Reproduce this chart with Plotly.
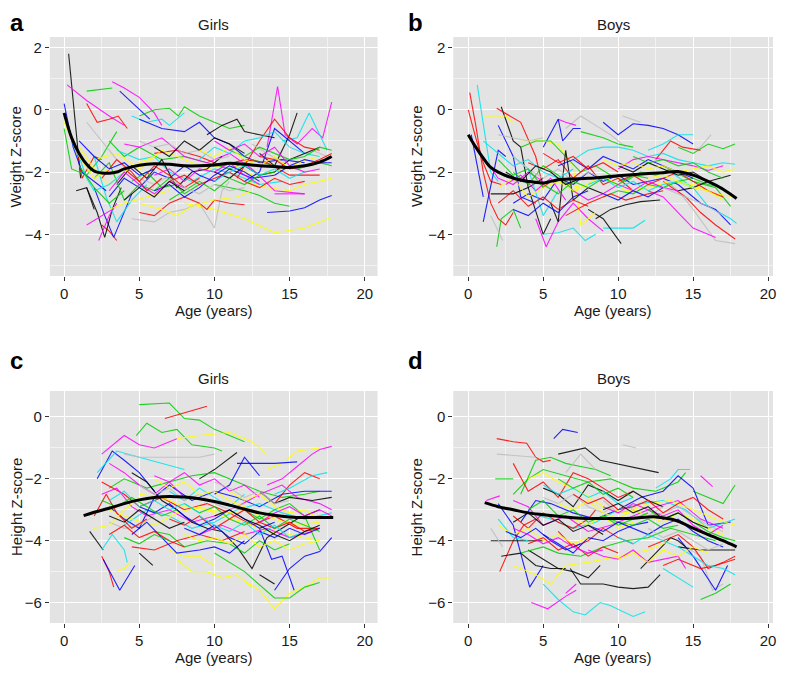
import plotly.graph_objects as go

W, H = 788, 674
OFF = 8  # the html body margin pushes the plot down/right by this much

# ---- data --------------------------------------------------------------
# each child trajectory: (colour, ages, z-scores)
girls_weight = [
    ("black", [0.3, 0.6, 0.9, 1.1], [1.8, 0.3, -1.2, -2.2]),
    ("magenta", [0.2, 1.5, 3.0, 4.0], [0.8, 0.3, -0.2, -0.5]),
    ("magenta", [3.2, 4.0, 5.0, 6.0, 6.5], [0.9, 0.7, 0.4, -0.1, -0.5]),
    ("green", [1.5, 3.2], [0.6, 0.7]),
    ("red", [1.5, 2.2, 3.0, 3.6, 4.2], [0.2, -0.4, -0.3, -0.2, -0.6]),
    ("blue", [3.7, 4.8, 5.7], [0.6, 0.1, -0.3]),
    ("green", [5.0, 6.0, 7.0, 7.6, 8.0, 9.0, 10.0, 11.0, 12.0], [-0.2, 0.0, 0.05, -0.2, 0.1, -0.2, -0.4, -0.6, -0.5]),
    ("cyan", [4.5, 5.5, 6.5, 7.0, 8.0], [-0.2, -0.4, -0.3, -0.5, -0.1]),
    ("magenta", [13.5, 14.2, 14.7, 15.5, 16.5, 17.2, 17.8], [-1.2, 0.75, -0.8, -1.1, -0.6, -0.9, 0.25]),
    ("cyan", [14.5, 15.5, 16.3, 17.0, 17.5], [-1.0, -0.9, -0.1, -0.8, -1.3]),
    ("black", [13.0, 14.0, 15.0, 15.5], [-1.4, -1.8, -0.8, -0.1]),
    ("yellow", [8.0, 10.0, 12.0, 14.0, 16.0, 17.8], [-3.0, -3.2, -3.5, -3.95, -3.8, -3.45]),
    ("blue", [13.5, 15.0, 16.0, 17.0, 17.8], [-3.3, -3.25, -3.15, -2.9, -2.75]),
    ("green", [10.0, 12.0, 13.0, 14.0, 15.0], [-2.4, -2.6, -2.75, -3.0, -3.1]),
    ("red", [2.5, 3.0, 3.5], [-3.7, -3.9, -4.2]),
    ("blue", [2.0, 2.7, 3.3, 4.0, 4.5], [-2.5, -3.4, -4.1, -3.3, -2.7]),
    ("black", [1.5, 2.2, 2.7, 3.2, 3.8], [-2.5, -3.3, -4.1, -3.2, -2.5]),
    ("magenta", [2.3, 3.0, 3.5], [-4.2, -3.4, -3.0]),
    ("magenta", [1.5, 2.5, 3.2], [-3.7, -3.4, -3.2]),
    ("gray", [4.5, 6.0, 7.0, 8.0, 9.0, 10.0, 10.5, 11.0], [-3.5, -3.6, -3.3, -3.2, -3.0, -3.8, -2.6, -2.3]),
    ("red", [5.0, 6.0, 7.0, 8.0, 9.0, 9.5, 10.0, 11.0, 12.0], [-3.3, -3.4, -3.0, -2.8, -3.0, -3.2, -2.9, -3.0, -3.05]),
    ("black", [0.8, 1.5, 2.0], [-2.6, -2.5, -3.2]),
    ("red", [0.8, 1.2, 2.0, 2.5], [-1.2, -2.2, -1.5, -1.6]),
    ("green", [0.0, 0.5, 1.5, 2.5, 3.5], [-0.6, -1.9, -2.1, -1.5, -0.7]),
    ("yellow", [5.0, 6.5, 7.5, 8.5, 10.0, 11.5, 12.5], [-3.0, -3.2, -3.4, -3.1, -2.9, -2.8, -2.6]),
    ("yellow", [12.0, 13.5, 15.0, 16.0, 17.0, 17.8], [-2.3, -2.5, -2.6, -2.4, -2.3, -2.2]),
    ("blue", [5.0, 6.5, 8.0, 9.0, 10.0, 11.0, 12.0, 13.0, 14.5, 16.0], [-0.3, -0.6, -0.7, -0.4, -0.9, -1.1, -1.5, -1.7, -1.6, -1.7]),
    ("black", [9.5, 10.5, 11.5, 12.0, 13.0, 14.0], [-0.8, -0.5, -0.3, -0.7, -0.8, -0.9]),
    ("green", [3.0, 4.0, 5.0, 6.5, 8.0, 9.5, 11.0, 12.5, 14.0, 15.5, 17.0, 17.8], [-1.0, -1.5, -1.2, -1.6, -1.5, -1.7, -1.9, -1.6, -1.8, -1.9, -1.7, -1.8]),
    ("cyan", [3.5, 5.0, 6.0, 7.0, 8.5, 10.0, 11.5, 13.0, 14.5], [-1.3, -1.6, -1.5, -2.0, -2.3, -1.9, -2.1, -2.4, -2.3]),
    ("red", [6.0, 7.5, 9.0, 10.5, 12.0, 13.5, 15.0, 17.0], [-1.4, -1.3, -1.5, -1.8, -1.6, -1.7, -2.1, -2.1]),
    ("blue", [3.0, 4.0, 5.0, 6.0, 7.0, 8.0, 9.0, 10.0, 11.0, 12.5, 14.0], [-2.8, -2.2, -2.5, -2.0, -2.2, -1.8, -2.1, -2.3, -1.9, -2.2, -2.1]),
    ("magenta", [4.0, 5.0, 6.5, 8.0, 9.5, 11.0, 12.5, 14.0, 16.0], [-1.1, -1.2, -0.9, -1.5, -1.7, -1.4, -1.9, -2.6, -2.7]),
    ("yellow", [2.0, 3.5, 5.0, 6.5, 8.0, 9.5, 11.0, 12.5, 14.0, 15.5, 17.0], [-1.6, -1.4, -1.9, -1.3, -1.6, -1.9, -1.7, -2.1, -2.0, -1.7, -1.5]),
    ("gray", [1.5, 2.5, 3.5, 4.5, 6.0, 7.5], [-0.4, -1.0, -1.6, -2.1, -2.4, -2.0]),
    ("black", [3.5, 4.5, 5.5, 6.5, 7.5, 8.5, 9.5, 10.5], [-2.4, -1.8, -2.2, -1.6, -2.5, -2.0, -1.9, -1.5]),
    ("green", [2.0, 3.0, 4.0, 5.0, 6.0, 7.0, 8.0, 9.0], [-2.2, -1.7, -2.9, -2.4, -2.6, -2.2, -2.7, -2.4]),
    ("cyan", [2.0, 2.8, 3.5, 4.5, 5.5], [-1.5, -2.8, -3.6, -2.9, -2.4]),
    ("red", [11.5, 13.0, 14.0, 15.0, 16.0, 17.0], [-2.2, -1.0, -0.3, -0.9, -1.2, -1.3]),
    ("blue", [12.0, 13.0, 14.0, 15.0, 16.0], [-2.3, -2.0, -0.6, -1.0, -1.4]),
    ("magenta", [14.0, 15.0, 16.0], [-2.7, -2.7, -2.7]),
    ("yellow", [3.0, 4.0, 5.5, 7.0], [-3.2, -3.0, -2.8, -2.6]),
    ("gray", [12.5, 13.5, 14.5, 15.5, 16.5, 17.5], [-1.1, -1.4, -1.7, -1.5, -1.3, -1.5]),
    ("green", [4.5, 5.5, 6.5, 7.5], [-2.3, -2.0, -2.5, -2.4]),
    ("blue", [0.0, 0.6, 1.2, 2.0, 2.8], [0.2, -1.2, -2.0, -2.3, -2.6]),
    ("cyan", [9.0, 10.0, 11.0, 12.0, 13.0, 14.0, 15.0, 16.0, 17.0], [-1.6, -1.2, -1.4, -1.0, -0.9, -0.7, -1.2, -1.4, -1.5]),
    ("red", [4.0, 5.0, 6.0, 7.0, 8.0, 9.0], [-1.9, -2.3, -1.8, -2.1, -2.5, -2.2]),
    ("magenta", [6.0, 7.0, 8.0, 9.0, 10.0, 11.0, 12.0, 13.0], [-2.1, -1.9, -2.3, -1.9, -2.0, -1.7, -2.1, -2.4]),
    ("black", [10.0, 11.0, 12.0, 13.0, 14.0, 15.0, 16.0, 17.0], [-2.0, -2.2, -1.8, -2.1, -2.0, -1.6, -1.4, -1.2]),
    ("gray", [5, 6, 7, 8, 9, 10, 11], [-1.0, -1.2, -1.1, -1.4, -1.3, -1.6, -1.5]),
    ("yellow", [1, 2, 3, 4, 5, 6], [-1.2, -1.9, -2.4, -2.0, -1.7, -1.5]),
    ("red", [7, 8, 9, 10, 11, 12, 13, 14, 15, 16], [-2.3, -2.1, -2.4, -2.2, -2.0, -2.3, -2.5, -2.2, -2.4, -2.3]),
    ("green", [11, 12, 13, 14, 15, 16, 17, 17.8], [-1.3, -1.5, -1.2, -1.4, -1.6, -1.5, -1.2, -1.3]),
    ("blue", [6, 7, 8, 9, 10, 11, 12, 13], [-2.6, -2.4, -2.8, -2.5, -2.1, -1.8, -2.0, -2.3]),
    ("cyan", [0.5, 1, 1.5, 2, 3, 4], [-1.0, -1.5, -2.2, -2.6, -2.4, -2.0]),
    ("magenta", [3, 4, 5, 6, 7, 8], [-2.6, -2.0, -2.4, -2.7, -2.3, -2.5]),
    ("black", [6, 7, 8, 9, 10, 11, 12], [-1.2, -1.5, -1.0, -1.3, -0.9, -1.1, -1.4]),
    ("yellow", [9, 10, 11, 12, 13, 14, 15, 16], [-1.3, -1.5, -1.2, -1.6, -1.8, -1.5, -1.9, -1.6]),
    ("red", [2.5, 3.5, 4.5, 5.5, 6.5], [-2.2, -1.6, -2.0, -2.6, -2.2]),
    ("green", [7, 8, 9, 10, 11, 12, 13, 14], [-2.9, -2.6, -2.3, -2.6, -2.2, -2.4, -2.1, -2.0]),
    ("blue", [14, 15, 16, 17, 17.8], [-2.1, -1.8, -1.6, -1.7, -1.7]),
    ("cyan", [10, 11, 12, 13, 14, 15, 16], [-2.3, -2.0, -1.8, -2.1, -1.9, -2.2, -2.0]),
    ("magenta", [10, 11, 12, 13, 14, 15, 16, 17], [-1.0, -1.3, -1.1, -1.5, -1.2, -1.8, -2.0, -1.9]),
    ("gray", [7, 8, 9, 10, 11, 12], [-2.2, -2.5, -2.7, -2.4, -2.6, -2.5]),
    ("red", [13, 14, 15, 16, 17, 17.8], [-1.5, -1.6, -1.9, -1.8, -1.6, -1.4]),
    ("blue", [1.0, 2.0, 3.0, 4.0, 5.0, 6.0], [-1.0, -1.5, -1.9, -1.7, -2.1, -1.9]),
    ("black", [4.0, 5.0, 6.0, 7.0, 8.0], [-2.9, -2.5, -2.8, -2.3, -2.6]),
    ("green", [1.0, 2.0, 3.0, 4.0], [-1.8, -2.5, -3.0, -2.6]),
    ("yellow", [0.0, 1.0, 2.0, 3.0], [-0.4, -1.5, -2.2, -1.9]),
]

boys_weight = [
    ("red", [0.1, 0.5, 1.0, 1.5, 2.0, 2.5, 3.0], [0.55, -0.5, -2.0, -3.0, -3.5, -3.7, -3.3]),
    ("red", [0.0, 0.5, 1.0, 1.5, 2.2], [0.0, -0.9, -1.7, -2.3, -2.4]),
    ("cyan", [0.6, 1.0, 1.5, 2.0], [0.8, -0.5, -2.0, -2.3]),
    ("blue", [0.2, 0.6, 1.0], [-0.8, -1.8, -2.8]),
    ("black", [2.2, 3.0, 3.5, 4.0, 5.0, 5.5], [0.1, -1.0, -1.2, -2.5, -4.0, -3.5]),
    ("red", [1.9, 3.5, 4.5, 5.0, 5.5], [0.05, -0.4, -1.5, -2.5, -2.3]),
    ("yellow", [1.0, 2.5, 3.0], [-0.2, -0.2, -0.4]),
    ("blue", [9.0, 10.0, 11.0, 12.0, 13.0, 14.0, 15.0], [-0.4, -0.8, -0.45, -0.5, -0.6, -0.8, -1.1]),
    ("gray", [10.3, 11.5], [-0.2, -0.4]),
    ("gray", [6.5, 7.5, 8.5, 9.5, 10.5], [-0.6, -0.2, -0.5, -0.8, -1.2]),
    ("magenta", [6.0, 6.5, 7.2], [-0.3, -0.4, -0.5]),
    ("blue", [5.0, 6.0, 6.3, 7.0, 7.5], [-1.2, -0.3, -1.0, -0.6, -0.6]),
    ("green", [7.5, 9.0, 10.0, 11.0], [-0.7, -0.9, -1.1, -1.2]),
    ("green", [14.0, 15.0, 16.0, 17.0, 17.8], [-1.2, -1.4, -1.1, -1.25, -1.1]),
    ("gray", [15.0, 15.5, 16.2], [-1.3, -1.2, -0.8]),
    ("cyan", [12.0, 13.0, 14.0, 15.0], [-1.3, -1.1, -0.8, -0.8]),
    ("red", [12.5, 13.5, 14.3, 15.5], [-1.6, -1.0, -1.2, -1.3]),
    ("gray", [13.0, 14.0, 15.0, 16.5, 17.8], [-2.2, -2.6, -3.2, -4.2, -4.3]),
    ("red", [13.0, 14.5, 15.5, 16.5, 17.8], [-2.3, -2.8, -3.3, -3.7, -4.15]),
    ("magenta", [12.0, 13.0, 14.0, 15.0, 16.5], [-2.6, -2.8, -3.3, -3.8, -4.1]),
    ("cyan", [13.5, 15.0, 16.0, 17.5, 17.9], [-2.0, -2.5, -3.1, -3.5, -3.65]),
    ("blue", [14.0, 15.5, 16.5, 17.5], [-2.4, -3.0, -3.2, -3.7]),
    ("green", [13.0, 15.0, 16.5, 17.5], [-1.8, -2.3, -2.5, -3.1]),
    ("cyan", [5.0, 6.0, 7.0, 7.8, 8.5], [-4.0, -3.95, -3.8, -4.2, -4.0]),
    ("cyan", [9.0, 10.0, 11.0, 11.8], [-3.8, -3.8, -3.8, -3.55]),
    ("black", [8.0, 9.0, 10.2], [-3.2, -3.5, -4.3]),
    ("black", [8.5, 9.5, 10.5, 11.5, 12.8], [-3.5, -3.2, -3.05, -2.95, -2.9]),
    ("magenta", [4.5, 5.2, 6.0, 7.0, 8.0, 9.0], [-3.5, -4.4, -3.6, -3.0, -3.5, -3.9]),
    ("green", [1.9, 2.2, 3.0, 3.5], [-4.4, -3.5, -3.2, -3.8]),
    ("gray", [1.5, 2.3], [-3.4, -4.2]),
    ("blue", [1.0, 1.5, 2.0, 2.5], [-3.6, -2.5, -1.3, -1.5]),
    ("black", [1.5, 3.0, 4.0, 5.0], [-2.7, -2.7, -2.5, -2.2]),
    ("blue", [2.0, 3.0, 3.5, 4.5], [-0.5, -1.5, -2.8, -3.0]),
    ("yellow", [3.5, 5.0, 6.0, 7.0, 7.5, 8.5], [-1.0, -1.0, -1.1, -1.8, -3.7, -3.3]),
    ("green", [3.5, 4.5, 5.5, 6.5, 7.5, 8.5, 9.5, 10.5, 11.5, 12.5, 13.5], [-1.2, -1.0, -1.0, -1.5, -2.0, -1.8, -2.1, -2.3, -2.0, -2.1, -1.9]),
    ("cyan", [7.0, 8.0, 9.0, 10.0, 11.0, 12.0, 13.0, 14.0, 15.0, 16.0, 17.0, 17.8], [-1.6, -1.3, -1.2, -1.2, -1.3, -1.5, -1.4, -1.6, -1.7, -1.8, -1.7, -1.75]),
    ("magenta", [10.0, 11.0, 12.0, 13.0, 14.0, 15.0, 16.0, 17.0], [-1.9, -1.6, -1.5, -1.6, -1.7, -1.8, -1.95, -1.8]),
    ("red", [4.0, 5.0, 6.0, 7.0, 8.0, 9.0, 10.0, 11.0], [-1.7, -1.9, -1.6, -2.2, -1.8, -2.4, -2.2, -2.6]),
    ("blue", [3.0, 4.0, 5.0, 6.0, 7.0, 8.0, 9.0, 10.0, 11.0, 12.0, 13.0, 14.0], [-3.0, -2.7, -2.9, -2.2, -2.4, -2.0, -2.3, -2.1, -2.4, -2.3, -2.2, -2.4]),
    ("yellow", [6.0, 7.5, 9.0, 10.5, 12.0, 13.5, 15.0, 16.5, 17.8], [-2.3, -2.5, -2.1, -2.6, -2.5, -2.3, -2.4, -2.7, -2.8]),
    ("black", [5.5, 6.0, 6.5, 7.0, 8.0, 9.0], [-3.0, -3.6, -1.3, -2.9, -2.5, -2.7]),
    ("green", [9.0, 10.0, 11.0, 12.0, 13.0, 14.0, 15.0, 16.0, 17.0], [-2.8, -2.6, -2.7, -2.4, -2.5, -2.3, -2.2, -2.4, -2.5]),
    ("red", [6.5, 8.0, 9.5, 10.5, 12.0, 13.0], [-3.4, -3.0, -2.7, -2.9, -2.7, -2.6]),
    ("magenta", [2.5, 3.5, 4.5, 5.5, 6.5], [-2.4, -2.1, -2.6, -2.2, -2.9]),
    ("gray", [2.0, 3.0, 4.0, 5.0], [-0.8, -0.9, -1.0, -0.9]),
    ("black", [14.0, 15.0, 16.0, 17.5], [-2.6, -2.5, -2.3, -2.1]),
    ("green", [3.0, 4.0, 5.0, 6.0, 7.0], [-2.0, -2.4, -1.8, -2.1, -2.6]),
    ("cyan", [3.0, 4.0, 5.0, 6.0], [-1.5, -1.9, -3.4, -2.6]),
    ("gray", [3, 4, 5, 6, 7, 8, 9], [-1.5, -1.9, -2.2, -1.9, -2.3, -2.0, -2.2]),
    ("yellow", [2, 3, 4, 5, 6, 7, 8], [-2.5, -2.2, -2.8, -2.5, -2.3, -2.6, -2.4]),
    ("red", [10, 11, 12, 13, 14, 15, 16, 17], [-2.3, -2.1, -2.4, -2.2, -2.0, -2.3, -2.6, -2.8]),
    ("green", [5, 6, 7, 8, 9, 10, 11, 12], [-2.4, -2.7, -2.3, -2.5, -2.2, -2.4, -2.1, -2.2]),
    ("blue", [6, 7, 8, 9, 10, 11, 12, 13, 14, 15], [-1.8, -1.6, -1.9, -1.5, -1.7, -1.9, -1.6, -1.8, -2.0, -2.2]),
    ("cyan", [1, 2, 3, 4, 5, 6, 7], [-1.0, -1.4, -1.8, -1.6, -2.0, -2.2, -1.9]),
    ("magenta", [7, 8, 9, 10, 11, 12, 13, 14], [-2.6, -2.9, -2.7, -2.4, -2.6, -2.3, -2.5, -2.6]),
    ("black", [10, 11, 12, 13, 14, 15, 16], [-1.8, -2.0, -1.7, -1.9, -2.1, -2.0, -2.3]),
    ("yellow", [9, 10, 11, 12, 13, 14, 15, 16, 17, 17.8], [-1.6, -1.8, -1.7, -1.9, -1.8, -2.0, -1.9, -1.8, -2.0, -1.9]),
    ("red", [2, 3, 4, 5, 6, 7, 8], [-3.0, -2.6, -3.1, -2.8, -3.2, -2.9, -3.1]),
    ("green", [11, 12, 13, 14, 15, 16, 17], [-1.5, -1.7, -1.6, -1.8, -1.7, -2.0, -2.2]),
    ("blue", [3, 4, 5, 6, 7, 8], [-3.2, -3.4, -3.0, -3.3, -2.8, -2.6]),
    ("cyan", [8, 9, 10, 11, 12, 13, 14, 15], [-2.4, -2.2, -2.5, -2.3, -2.6, -2.4, -2.3, -2.5]),
    ("magenta", [1, 2, 3, 4, 5], [-1.5, -2.2, -2.4, -2.0, -2.3]),
    ("gray", [11, 12, 13, 14, 15, 16, 17], [-2.6, -2.8, -2.5, -2.7, -2.9, -3.1, -3.4]),
    ("black", [2.5, 3.5, 4.5, 5.5, 6.5, 7.5], [-2.0, -2.3, -1.8, -2.0, -2.4, -2.2]),
    ("red", [5, 6, 7, 8, 9, 10], [-1.4, -1.7, -1.5, -1.9, -1.7, -2.0]),
    ("green", [2, 3, 4, 5], [-1.6, -2.1, -1.9, -2.5]),
    ("yellow", [12, 13, 14, 15, 16, 17], [-2.2, -2.1, -2.3, -2.5, -2.6, -2.9]),
    ("blue", [9, 10, 11, 12, 13], [-2.7, -2.9, -2.6, -2.8, -2.5]),
]

girls_height = [
    ("green", [5.0, 7.0, 8.0, 9.0, 10.0, 12.0], [0.4, 0.45, -0.05, -0.1, -0.4, -0.8]),
    ("red", [6.7, 9.5], [-0.05, 0.35]),
    ("green", [4.8, 5.5, 6.5, 7.5, 8.5, 10.0, 10.5], [-0.6, -0.2, -0.5, -0.4, -0.9, -1.0, -1.1]),
    ("yellow", [7.5, 9.0, 11.0, 12.5, 13.5], [-0.7, -0.6, -0.5, -0.8, -1.2]),
    ("magenta", [2.5, 4.0, 5.0, 6.0, 7.5], [-1.2, -0.6, -0.9, -1.0, -0.7]),
    ("blue", [2.2, 3.2, 4.0, 5.0, 6.0], [-2.0, -1.1, -1.4, -1.8, -2.4]),
    ("cyan", [2.2, 3.5, 5.0, 6.5, 8.0], [-1.8, -1.1, -1.3, -1.5, -1.7]),
    ("magenta", [13.5, 14.5, 15.5, 16.5, 17.0, 17.8], [-2.2, -2.0, -1.6, -1.2, -1.05, -0.95]),
    ("yellow", [13.5, 14.5, 15.5, 17.0], [-1.7, -1.5, -1.1, -1.0]),
    ("blue", [11.5, 13.0, 14.0, 15.5], [-1.5, -1.5, -1.5, -1.45]),
    ("yellow", [12.0, 13.0, 14.0, 15.0, 16.0, 17.0, 17.8], [-5.3, -5.6, -6.2, -5.7, -5.5, -5.2, -5.2]),
    ("green", [10.0, 12.0, 14.0, 15.0, 16.0, 17.0], [-4.4, -5.0, -5.85, -5.85, -5.5, -5.35]),
    ("blue", [14.0, 15.0, 16.0, 17.0, 17.8], [-5.6, -4.9, -4.5, -4.35, -3.9]),
    ("blue", [13.0, 13.8, 14.5, 15.3], [-3.6, -4.6, -4.5, -5.6]),
    ("black", [13.0, 14.0], [-5.1, -5.4]),
    ("yellow", [7.5, 8.5, 9.5, 10.5, 11.5, 12.5], [-4.6, -5.0, -5.0, -5.2, -5.1, -5.5]),
    ("yellow", [7.0, 8.0, 9.0, 10.0], [-4.3, -4.5, -4.5, -4.8]),
    ("red", [2.5, 3.0, 3.3], [-4.5, -5.0, -5.5]),
    ("blue", [2.6, 3.7, 4.7], [-4.6, -5.6, -4.8]),
    ("yellow", [3.5, 4.0, 4.5], [-5.0, -4.9, -4.7]),
    ("black", [1.7, 2.6], [-3.7, -4.3]),
    ("cyan", [2.5, 3.2, 4.0, 4.2], [-4.3, -3.8, -4.3, -4.7]),
    ("black", [5.0, 5.9], [-4.4, -4.8]),
    ("black", [9.0, 10.0, 11.5], [-2.0, -1.7, -1.15]),
    ("gray", [4.0, 5.0, 7.0, 9.0, 10.0], [-1.2, -1.3, -1.3, -1.3, -1.2]),
    ("green", [3.0, 4.0, 5.5, 7.0, 8.5, 10.0, 11.5, 13.0, 14.5, 16.0, 17.0], [-2.3, -2.0, -2.3, -2.1, -1.9, -1.8, -2.1, -2.4, -2.6, -2.5, -2.4]),
    ("red", [2.5, 4.0, 5.0, 6.5, 8.0, 9.5, 11.0, 12.5, 14.0, 15.5, 17.0], [-2.1, -2.5, -2.9, -2.6, -3.0, -2.8, -3.1, -3.5, -3.2, -3.6, -3.6]),
    ("blue", [3.0, 4.0, 5.0, 6.0, 7.0, 8.5, 10.0, 11.5, 13.0, 14.5, 16.0, 17.8], [-2.9, -3.3, -3.6, -2.6, -2.2, -2.7, -2.4, -2.6, -2.9, -2.5, -2.4, -2.4]),
    ("magenta", [2.5, 3.5, 4.5, 5.5, 7.0, 8.5, 10.0, 11.5, 13.0, 14.5, 15.5, 17.0, 17.8], [-2.5, -2.3, -2.9, -3.2, -3.0, -3.4, -3.2, -2.9, -2.5, -2.2, -2.6, -2.8, -3.0]),
    ("cyan", [4.0, 5.5, 7.0, 8.5, 10.0, 11.5, 13.0, 14.5, 16.0, 17.8], [-3.5, -3.0, -3.2, -3.6, -3.4, -3.0, -2.8, -3.1, -3.3, -3.1]),
    ("yellow", [3.0, 4.5, 6.0, 7.5, 9.0, 10.5, 12.0, 13.5, 15.0, 17.0], [-3.0, -3.3, -3.5, -3.1, -2.9, -3.2, -3.4, -3.7, -3.8, -4.0]),
    ("black", [4.5, 5.5, 6.5, 7.5, 8.5, 9.5, 10.5, 11.5, 12.5, 13.5, 14.5, 15.5, 17.0], [-1.8, -2.1, -2.7, -3.0, -3.4, -3.6, -3.7, -4.2, -4.9, -3.9, -3.6, -3.3, -3.0]),
    ("green", [6.0, 7.0, 8.0, 9.5, 11.0, 12.0, 13.0, 14.0, 15.0], [-3.7, -3.8, -4.2, -4.0, -4.1, -4.4, -4.0, -4.3, -4.1]),
    ("red", [4.5, 6.0, 7.5, 9.0, 10.5, 12.0], [-4.2, -4.3, -4.0, -3.8, -4.0, -3.7]),
    ("blue", [4.5, 5.5, 6.5, 7.5, 9.0, 10.0, 11.0, 12.0], [-3.8, -3.4, -3.9, -4.4, -4.3, -4.2, -4.4, -4.0]),
    ("yellow", [5.0, 6.5, 8.0, 9.5, 11.0, 12.5, 14.0, 15.5, 17.0], [-2.5, -2.6, -2.9, -3.0, -3.1, -3.0, -3.3, -3.5, -3.4]),
    ("magenta", [3.0, 4.0, 5.0, 6.0, 7.0, 8.0], [-1.5, -1.8, -2.2, -2.5, -2.1, -2.6]),
    ("green", [12.0, 13.0, 14.0, 15.0, 16.0, 17.0], [-3.0, -3.3, -3.0, -2.8, -3.2, -4.3]),
    ("cyan", [7.0, 8.0, 9.0, 10.0, 11.0, 12.0], [-2.4, -2.7, -2.3, -2.6, -2.9, -2.5]),
    ("red", [14.0, 15.0, 16.0, 17.0], [-2.8, -2.2, -1.8, -2.0]),
    ("cyan", [14.0, 15.0, 16.5, 17.5], [-2.5, -2.3, -1.9, -1.8]),
    ("black", [13.0, 14.0, 15.0, 16.5, 17.8], [-2.4, -2.8, -2.6, -2.7, -2.6]),
    ("blue", [10.0, 11.0, 12.0, 13.0], [-2.5, -2.2, -1.3, -1.9]),
    ("gray", [3.0, 4.0, 5.0, 6.0], [-3.4, -3.6, -3.5, -3.2]),
    ("red", [2.0, 2.8, 3.5, 4.5, 5.5], [-3.2, -2.5, -3.1, -3.6, -3.3]),
    ("yellow", [2.0, 3.0, 4.0, 5.0], [-3.6, -3.5, -3.0, -2.6]),
    ("magenta", [9.0, 10.5, 12.0, 13.5, 15.0, 16.5], [-3.8, -3.5, -3.8, -3.6, -3.9, -3.7]),
    ("gray", [5, 6, 7, 8, 9, 10, 11, 12], [-2.2, -2.5, -2.3, -2.7, -2.5, -2.8, -3.0, -2.8]),
    ("yellow", [6, 7, 8, 9, 10, 11, 12, 13], [-2.0, -2.3, -2.1, -2.5, -2.4, -2.7, -2.9, -3.2]),
    ("red", [7, 8, 9, 10, 11, 12, 13, 14, 15, 16, 17], [-3.3, -3.5, -3.2, -3.6, -3.3, -3.0, -3.4, -3.6, -3.4, -3.7, -3.6]),
    ("green", [8, 9, 10, 11, 12, 13, 14, 15, 16, 17], [-2.8, -3.1, -2.9, -3.3, -3.5, -3.2, -3.6, -3.3, -3.5, -3.7]),
    ("blue", [5, 6, 7, 8, 9, 10, 11, 12, 13, 14], [-2.9, -3.1, -2.8, -3.2, -3.5, -3.3, -3.0, -3.3, -3.6, -3.4]),
    ("cyan", [3, 4, 5, 6, 7, 8, 9], [-2.7, -2.4, -2.9, -2.7, -3.0, -2.8, -3.1]),
    ("magenta", [6, 7, 8, 9, 10, 11, 12, 13], [-1.9, -2.1, -1.8, -2.2, -2.0, -2.4, -2.2, -2.6]),
    ("black", [3, 4, 5, 6, 7, 8], [-3.2, -3.4, -3.0, -3.3, -3.6, -3.4]),
    ("yellow", [11, 12, 13, 14, 15, 16, 17], [-2.4, -2.7, -2.5, -2.9, -3.1, -3.0, -3.3]),
    ("green", [2.5, 3.5, 4.5, 5.5, 6.5, 7.5], [-2.7, -2.9, -2.6, -2.9, -3.2, -3.0]),
    ("blue", [8, 9, 10, 11, 12, 13, 14, 15, 16, 17], [-3.6, -3.8, -3.5, -3.9, -4.1, -3.7, -3.9, -3.6, -3.8, -3.6]),
    ("red", [3, 4, 5, 6, 7, 8], [-3.8, -3.5, -3.9, -3.7, -4.0, -4.2]),
    ("cyan", [9, 10, 11, 12, 13, 14, 15, 16], [-3.2, -3.5, -3.7, -3.4, -3.8, -3.5, -3.9, -3.7]),
    ("magenta", [13, 14, 15, 16, 17, 17.8], [-3.4, -3.1, -2.9, -3.2, -3.0, -3.2]),
    ("gray", [10, 11, 12, 13, 14, 15], [-2.1, -2.3, -2.6, -2.4, -2.8, -2.7]),
    ("black", [10, 11, 12, 13, 14, 15, 16, 17], [-3.2, -3.0, -3.3, -3.5, -3.8, -4.0, -3.7, -3.5]),
    ("green", [4, 5, 6, 7], [-3.9, -4.1, -3.8, -4.0]),
    ("yellow", [8, 9, 10, 11, 12, 13, 14, 15, 16, 17], [-3.8, -4.0, -3.9, -4.1, -3.8, -4.2, -4.0, -4.3, -4.1, -4.0]),
]

boys_height = [
    ("blue", [5.7, 6.3, 7.3], [-0.7, -0.4, -0.5]),
    ("red", [1.9, 3.0, 3.9, 4.5, 5.0, 5.5], [-0.7, -0.8, -0.85, -1.3, -1.45, -1.4]),
    ("gray", [1.9, 4.5], [-1.2, -1.3]),
    ("black", [6.0, 7.0, 7.8, 8.8, 12.7], [-1.2, -1.1, -1.0, -1.4, -1.8]),
    ("gray", [10.3, 11.2], [-0.9, -1.0]),
    ("cyan", [12.5, 13.5, 14.0, 14.8], [-2.3, -2.0, -1.7, -1.7]),
    ("magenta", [15.5, 16.3], [-1.9, -2.25]),
    ("green", [15.0, 16.0, 17.0, 17.8], [-2.4, -2.6, -2.8, -2.2]),
    ("magenta", [1.2, 2.1], [-2.7, -2.55]),
    ("blue", [2.0, 3.0, 4.1, 5.0], [-2.8, -3.5, -5.5, -4.8]),
    ("red", [2.1, 3.0, 3.7, 4.5], [-5.0, -4.0, -3.5, -3.3]),
    ("cyan", [5.0, 6.0, 7.0, 7.8, 8.8, 9.5, 11.0, 11.8], [-5.4, -5.9, -6.3, -6.4, -6.0, -6.1, -6.45, -6.3]),
    ("magenta", [4.2, 5.3, 6.5, 7.2], [-6.0, -6.2, -5.8, -5.6]),
    ("magenta", [6.5, 7.2], [-5.7, -5.4]),
    ("black", [6.8, 7.5, 9.0, 10.0, 11.0, 12.0, 12.8], [-4.9, -5.4, -5.4, -5.5, -5.55, -5.5, -5.1]),
    ("gray", [14.5, 15.5, 16.3, 17.0], [-4.2, -4.5, -5.6, -5.4]),
    ("green", [15.5, 16.5, 17.5], [-5.9, -5.7, -5.4]),
    ("blue", [14.0, 15.0, 16.5, 17.3], [-3.9, -4.5, -5.6, -4.8]),
    ("cyan", [13.0, 14.0, 15.0], [-4.9, -5.2, -5.5]),
    ("black", [1.5, 5.0], [-4.0, -4.0]),
    ("gray", [1.5, 2.3], [-3.6, -4.2]),
    ("black", [2.2, 3.5, 4.5, 5.5, 6.5], [-4.5, -4.4, -4.8, -4.9, -4.9]),
    ("black", [4.0, 5.0, 6.0, 7.0, 8.0, 8.8], [-4.3, -4.6, -4.9, -5.0, -5.2, -4.8]),
    ("black", [11.5, 12.5, 13.5, 14.0, 14.5], [-4.9, -4.4, -3.9, -4.0, -4.2]),
    ("black", [14.0, 15.5, 17.8], [-4.2, -4.3, -4.3]),
    ("red", [12.0, 13.0, 14.0, 15.0, 16.0, 17.0, 17.8], [-4.2, -4.0, -3.8, -4.2, -4.9, -4.7, -4.5]),
    ("red", [13.0, 14.0, 15.5, 16.5, 17.8], [-4.8, -4.6, -4.9, -4.8, -4.6]),
    ("green", [1.8, 3.0], [-2.0, -2.0]),
    ("green", [3.5, 4.5, 5.5, 6.5, 7.5, 8.5, 9.5], [-2.5, -1.4, -1.3, -1.5, -1.6, -1.7, -1.9]),
    ("gray", [6.5, 7.5, 8.5], [-1.8, -1.2, -1.7]),
    ("green", [3.0, 4.0, 5.0, 6.5, 8.0, 9.5, 11.0, 12.5, 14.0, 14.5], [-2.5, -2.0, -1.7, -1.9, -2.1, -2.0, -2.3, -2.4, -2.1, -1.8]),
    ("red", [3.0, 4.0, 5.0, 6.0, 7.0, 8.0, 9.0, 10.0, 11.0], [-1.5, -2.4, -2.1, -2.6, -1.8, -2.0, -2.3, -2.6, -2.4]),
    ("blue", [3.5, 4.5, 5.5, 7.0, 8.5, 10.0, 11.5, 13.0, 14.0, 15.0, 16.0, 17.5], [-3.4, -2.7, -2.8, -3.1, -3.3, -3.0, -2.6, -2.4, -1.9, -2.3, -3.5, -3.4]),
    ("cyan", [4.0, 5.5, 7.0, 8.5, 10.0, 11.5, 13.0, 14.5, 16.0, 17.8], [-3.1, -3.3, -3.6, -3.4, -3.0, -2.8, -2.7, -3.0, -3.6, -3.3]),
    ("magenta", [3.0, 4.0, 5.0, 6.5, 8.0, 9.5, 11.0, 12.5, 14.0, 15.5, 17.0], [-2.7, -2.9, -3.5, -3.2, -3.7, -3.5, -3.2, -2.9, -2.7, -3.3, -3.6]),
    ("yellow", [4.0, 5.0, 6.0, 7.5, 9.0, 10.5, 12.0, 13.5, 15.0, 16.5, 17.8], [-2.0, -1.8, -2.1, -2.4, -2.9, -3.1, -2.8, -2.7, -3.0, -3.3, -3.5]),
    ("yellow", [3.0, 4.5, 5.5, 6.5, 8.0, 10.0, 12.0, 13.5], [-4.8, -5.1, -5.4, -4.8, -4.7, -4.5, -4.3, -4.0]),
    ("green", [3.5, 5.0, 6.0, 7.5, 9.0, 10.5, 12.0, 13.5, 15.0, 16.5], [-4.4, -4.2, -4.4, -4.5, -4.2, -4.0, -3.9, -3.6, -3.8, -4.0]),
    ("red", [6.0, 7.0, 8.0, 9.0, 10.0, 11.0], [-3.7, -4.2, -4.0, -3.6, -3.9, -4.1]),
    ("blue", [5.0, 6.0, 7.0, 8.0, 9.0, 10.0, 11.0, 12.0], [-3.8, -4.1, -4.4, -3.9, -4.0, -3.7, -3.5, -3.4]),
    ("black", [5.0, 6.0, 7.0, 8.0, 9.0, 10.0, 11.0, 12.0, 13.0], [-2.3, -2.5, -2.9, -2.2, -2.4, -2.7, -2.4, -2.7, -2.9]),
    ("magenta", [8.0, 9.0, 10.0, 11.0, 12.0, 13.0, 14.0, 14.5], [-4.3, -4.5, -4.6, -4.3, -4.7, -4.6, -4.5, -4.9]),
    ("gray", [9.0, 10.0, 11.0, 12.0, 13.0, 14.0, 15.0, 16.0, 17.0], [-2.7, -3.1, -3.0, -3.2, -3.1, -2.9, -3.2, -3.5, -3.7]),
    ("cyan", [2.0, 3.0, 4.0], [-3.3, -3.9, -4.0]),
    ("red", [3.0, 4.0, 5.0, 6.0, 7.0, 8.0, 8.5], [-3.2, -3.6, -3.1, -3.4, -3.6, -3.3, -3.0]),
    ("green", [9.0, 10.0, 11.0, 12.0, 13.0, 14.0], [-3.2, -3.4, -3.5, -3.3, -3.6, -3.5]),
    ("yellow", [7.0, 8.0, 9.0, 10.0, 11.0], [-3.3, -3.5, -3.2, -3.6, -3.4]),
    ("gray", [5, 6, 7, 8, 9, 10, 11, 12, 13], [-2.6, -2.8, -2.5, -2.9, -3.1, -2.8, -3.0, -3.2, -2.9]),
    ("yellow", [6, 7, 8, 9, 10, 11, 12, 13, 14, 15, 16, 17], [-2.8, -3.0, -2.7, -3.1, -3.3, -3.0, -3.2, -3.4, -3.1, -3.3, -3.6, -3.8]),
    ("red", [7, 8, 9, 10, 11, 12, 13, 14, 15, 16, 17], [-2.5, -2.8, -2.6, -3.0, -2.9, -2.7, -3.1, -2.8, -2.6, -3.0, -3.3]),
    ("green", [4, 5, 6, 7, 8, 9, 10, 11, 12], [-3.0, -2.7, -3.2, -3.0, -3.4, -3.2, -3.5, -3.3, -3.1]),
    ("blue", [8, 9, 10, 11, 12, 13, 14, 15, 16, 17], [-3.5, -3.7, -3.4, -3.6, -3.8, -3.5, -3.3, -3.7, -4.0, -4.2]),
    ("cyan", [5, 6, 7, 8, 9, 10, 11], [-2.2, -2.5, -2.3, -2.6, -2.4, -2.8, -2.6]),
    ("magenta", [9, 10, 11, 12, 13, 14, 15, 16, 17], [-2.9, -3.1, -2.8, -3.0, -3.2, -3.0, -3.5, -3.8, -3.5]),
    ("black", [3, 4, 5, 6, 7, 8, 9], [-3.4, -3.1, -3.5, -3.3, -3.7, -3.5, -3.8]),
    ("yellow", [2, 3, 4, 5, 6, 7, 8], [-3.5, -3.8, -3.6, -4.0, -3.8, -4.1, -3.9]),
    ("green", [12, 13, 14, 15, 16, 17, 17.8], [-3.0, -3.3, -3.1, -3.4, -3.7, -3.9, -4.0]),
    ("red", [4, 5, 6, 7, 8, 9, 10], [-4.1, -3.9, -4.3, -4.1, -4.5, -4.2, -4.4]),
    ("cyan", [10, 11, 12, 13, 14, 15, 16, 17, 17.8], [-3.9, -4.1, -3.8, -4.0, -4.2, -4.5, -4.8, -4.9, -5.1]),
    ("blue", [2.5, 3.5, 4.5, 5.5, 6.5, 7.5], [-3.7, -3.9, -3.6, -4.0, -4.3, -4.1]),
    ("gray", [12, 13, 14, 15, 16, 17], [-3.6, -3.9, -3.7, -4.0, -4.3, -4.1]),
    ("magenta", [3, 4, 5, 6, 7, 8, 9], [-3.6, -3.8, -4.1, -3.9, -4.2, -4.4, -4.3]),
    ("black", [9, 10, 11, 12, 13, 14, 15, 16], [-3.0, -2.8, -3.1, -2.9, -3.3, -3.1, -3.4, -3.6]),
    ("green", [6, 7, 8, 9, 10, 11], [-2.0, -2.3, -2.1, -2.5, -2.3, -2.6]),
    ("yellow", [10, 11, 12, 13, 14, 15, 16], [-4.6, -4.4, -4.7, -4.3, -4.5, -4.2, -4.4]),
]

# smoothed mean curves
girls_weight_fit_age = [0, 0.5, 1, 1.5, 2, 2.5, 3, 3.5, 4, 5, 6, 7, 8, 9, 10, 11, 12, 13, 14, 15, 16, 17, 17.8]
girls_weight_fit_z = [-0.1, -0.9, -1.4, -1.75, -1.97, -2.03, -2.04, -2.0, -1.9, -1.78, -1.73, -1.75, -1.8, -1.8, -1.77, -1.72, -1.75, -1.8, -1.82, -1.85, -1.8, -1.68, -1.5]
boys_weight_fit_age = [0, 0.5, 1, 1.5, 2, 3, 4, 5, 5.5, 6, 7, 8, 10, 12, 13, 14, 15, 16, 17, 17.9]
boys_weight_fit_z = [-0.8, -1.2, -1.55, -1.85, -2.0, -2.2, -2.3, -2.35, -2.3, -2.25, -2.22, -2.2, -2.12, -2.05, -2.02, -1.98, -2.1, -2.3, -2.55, -2.85]
girls_height_fit_age = [1.3, 2, 3, 4, 5, 6, 7, 8, 9, 10, 11, 12, 13, 14, 15, 16, 17, 17.9]
girls_height_fit_z = [-3.19, -3.08, -2.95, -2.8, -2.68, -2.6, -2.57, -2.59, -2.64, -2.73, -2.85, -2.98, -3.1, -3.18, -3.23, -3.25, -3.25, -3.25]
boys_height_fit_age = [1.1, 2, 3, 4, 5, 6, 7.5, 9, 10, 11, 12.5, 13.5, 14, 15, 16, 16.5, 17, 17.9]
boys_height_fit_z = [-2.77, -2.9, -3.0, -3.1, -3.16, -3.21, -3.27, -3.28, -3.28, -3.27, -3.23, -3.3, -3.37, -3.59, -3.8, -3.9, -4.0, -4.2]

x_ticks = [0, 5, 10, 15, 20]
weight_y_ticks = [-4, -2, 0, 2]
height_y_ticks = [-6, -4, -2, 0]

# ---- styling ------------------------------------------------------------
COLORS = {"black": "#000000", "red": "#FF0000", "green": "#00CD00", "blue": "#0000FF",
          "cyan": "#00E5EE", "magenta": "#FF00FF", "yellow": "#FFFF00", "gray": "#BEBEBE"}
FONT = "Liberation Sans, Arial, Helvetica, sans-serif"
BG = "#E3E3E3"
# keep the figure inside the window (no scrollbars): body margin 8 on each side
FW, FH = W - 2 * OFF, H - 2 * OFF


def fx(px):
    return (px - OFF) / FW


def fy(py):
    return 1 - (py - OFF) / FH


# panel: (lines, fit ages, fit z, y ticks, x range, y range, x px span, y px span,
#         xlabel y, ytitle x, letter y, letter, title, ytitle)
panels = [
    (girls_weight, girls_weight_fit_age, girls_weight_fit_z, weight_y_ticks, [-0.95, 20.85], [-5.34, 2.34],
     (50, 379), (37, 276), 310, 16, 22, "a", "Girls", "Weight Z-score"),
    (boys_weight, boys_weight_fit_age, boys_weight_fit_z, weight_y_ticks, [-1.0, 20.33], [-5.34, 2.34],
     (455, 776), (37, 276), 310, 418, 22, "b", "Boys", "Weight Z-score"),
    (girls_height, girls_height_fit_age, girls_height_fit_z, height_y_ticks, [-0.95, 20.85], [-6.66, 0.84],
     (50, 379), (391, 623), 657, 16, 360, "c", "Girls", "Height Z-score"),
    (boys_height, boys_height_fit_age, boys_height_fit_z, height_y_ticks, [-1.0, 20.33], [-6.66, 0.84],
     (455, 776), (391, 623), 657, 418, 360, "d", "Boys", "Height Z-score"),
]

fig = go.Figure()
annotations = []
layout = {}
txt = dict(size=15, color="#1a1a1a", family=FONT)

for i, (lines, fa, fz, yt, xr, yr, xs, ys, xlab_y, ytit_x, let_y, letter, title, ytitle) in enumerate(panels):
    n = "" if i == 0 else str(i + 1)
    xa, ya = "x" + n, "y" + n

    for col, ages, z in lines:
        fig.add_trace(go.Scatter(x=ages, y=z, mode="lines", xaxis=xa, yaxis=ya,
                                 line=dict(color=COLORS[col], width=1.1), opacity=0.85,
                                 showlegend=False, hoverinfo="skip"))
    fig.add_trace(go.Scatter(x=fa, y=fz, mode="lines", xaxis=xa, yaxis=ya,
                             line=dict(color="black", width=3, shape="spline"),
                             showlegend=False))

    layout["xaxis" + n] = dict(
        domain=[fx(xs[0]), fx(xs[1])], anchor=ya, range=xr,
        tickvals=x_ticks, ticks="outside", ticklen=4, tickcolor="#333333",
        showgrid=True, gridcolor="white", gridwidth=1, zeroline=False, showline=False,
        minor=dict(dtick=2.5, tick0=0, showgrid=True, gridcolor="#F2F2F2", gridwidth=0.6),
        tickfont=txt,
    )
    layout["yaxis" + n] = dict(
        domain=[fy(ys[1]), fy(ys[0])], anchor=xa, range=yr,
        tickvals=yt, ticks="outside", ticklen=4, tickcolor="#333333",
        showgrid=True, gridcolor="white", gridwidth=1, zeroline=False, showline=False,
        minor=dict(dtick=1, tick0=0, showgrid=True, gridcolor="#F2F2F2", gridwidth=0.6),
        tickfont=txt,
    )

    cx = (xs[0] + xs[1]) / 2
    common = dict(xref="paper", yref="paper", showarrow=False, xanchor="center", yanchor="middle")
    annotations.append(dict(text=title, x=fx(cx), y=fy(ys[0] - 13), font=txt, **common))
    annotations.append(dict(text="Age (years)", x=fx(cx), y=fy(xlab_y), font=txt, **common))
    annotations.append(dict(text=ytitle, x=fx(ytit_x), y=fy((ys[0] + ys[1]) / 2), textangle=-90,
                            font=txt, **common))
    annotations.append(dict(text="<b>" + letter + "</b>", x=fx(max(xs[0] - 47, OFF)),
                            y=fy(let_y), xref="paper", yref="paper", xanchor="left",
                            yanchor="middle", showarrow=False,
                            font=dict(size=24, color="black", family=FONT)))

fig.update_layout(
    width=FW, height=FH, margin=dict(l=0, r=0, t=0, b=0),
    paper_bgcolor="white", plot_bgcolor=BG,
    annotations=annotations, **layout,
)

fig.write_html("out.html")
